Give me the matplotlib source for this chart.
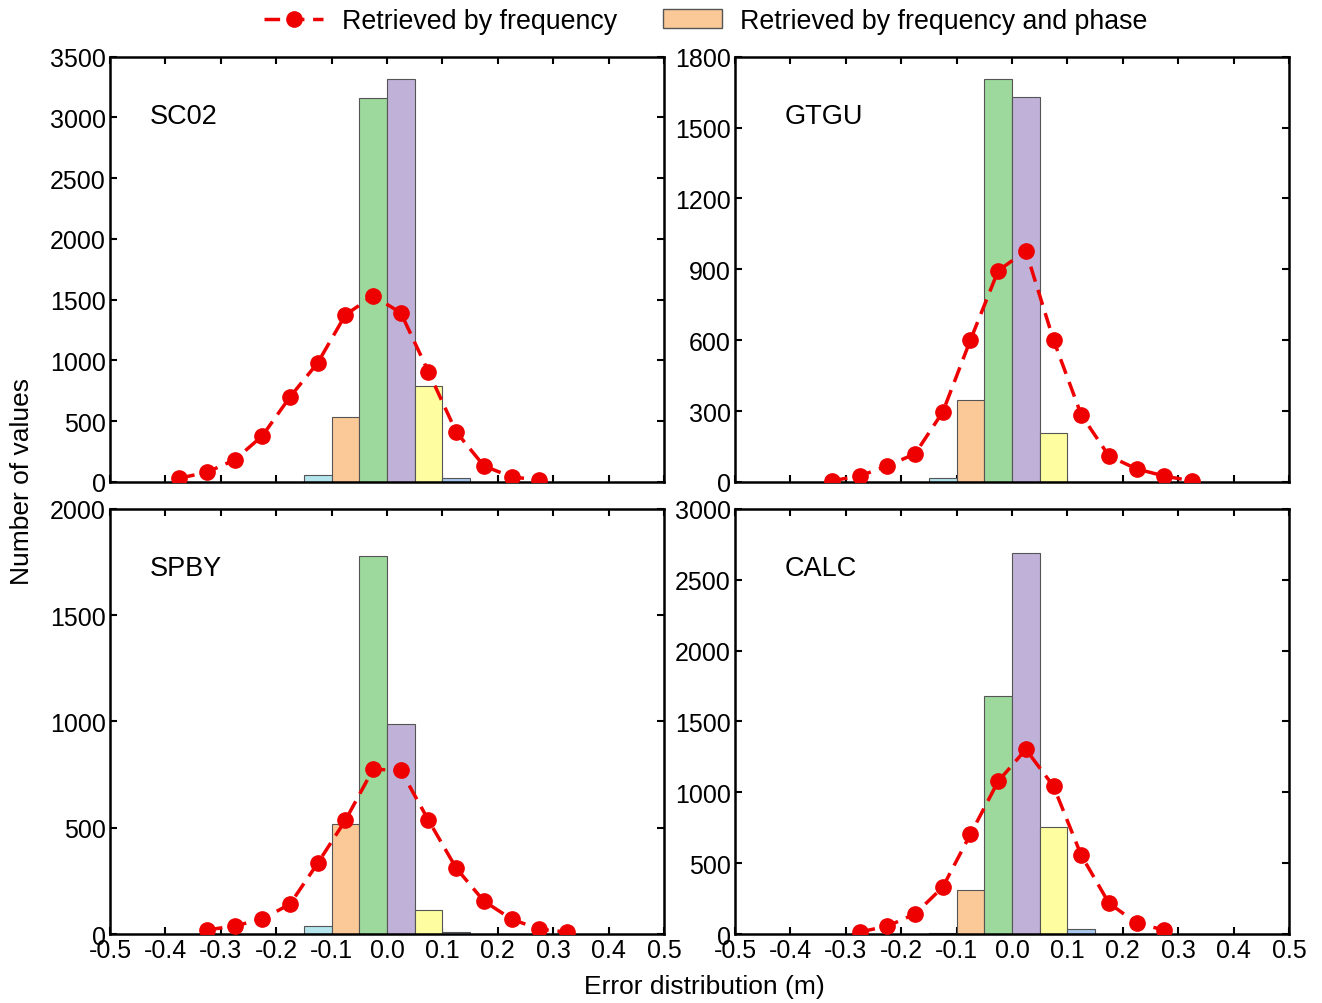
import matplotlib.pyplot as plt
import numpy as np

plt.rcParams['font.family'] = ['Liberation Sans', 'DejaVu Sans']
plt.rcParams['font.size'] = 18

stations = ['SC02', 'GTGU', 'SPBY', 'CALC']
ymax = [3500, 1800, 2000, 3000]
ystep = [500, 300, 500, 500]
xticks = [-0.5, -0.4, -0.3, -0.2, -0.1, 0.0, 0.1, 0.2, 0.3, 0.4, 0.5]
xlabels = ['-0.5', '-0.4', '-0.3', '-0.2', '-0.1', '0.0', '0.1', '0.2', '0.3',
           '0.4', '0.5']

# bar centres (frequency + phase) and colours
bar_x = [-0.125, -0.075, -0.025, 0.025, 0.075, 0.125]
bar_cols = ['#b4e4ec', '#fbc997', '#9dd89c', '#c0b1d8', '#fefea0', '#a8c8f0']
bars = {
    'SC02': [60, 535, 3163, 3320, 790, 33],
    'GTGU': [15, 347, 1707, 1631, 208, 0],
    'SPBY': [38, 516, 1779, 986, 113, 9],
    'CALC': [5, 310, 1676, 2690, 753, 35],
}

# frequency-only curve
freq_x = {
    'SC02': [-0.375, -0.325, -0.275, -0.225, -0.175, -0.125, -0.075, -0.025,
             0.025, 0.075, 0.125, 0.175, 0.225, 0.275],
    'GTGU': [-0.325, -0.275, -0.225, -0.175, -0.125, -0.075, -0.025,
             0.025, 0.075, 0.125, 0.175, 0.225, 0.275, 0.325],
    'SPBY': [-0.325, -0.275, -0.225, -0.175, -0.125, -0.075, -0.025,
             0.025, 0.075, 0.125, 0.175, 0.225, 0.275, 0.325],
    'CALC': [-0.275, -0.225, -0.175, -0.125, -0.075, -0.025,
             0.025, 0.075, 0.125, 0.175, 0.225, 0.275],
}
freq_y = {
    'SC02': [30, 80, 181, 379, 700, 980, 1375, 1532, 1392, 906, 412, 132, 41, 16],
    'GTGU': [5, 25, 68, 119, 296, 601, 894, 978, 601, 284, 110, 55, 25, 4],
    'SPBY': [19, 38, 70, 141, 333, 535, 775, 770, 535, 310, 155, 70, 23, 9],
    'CALC': [14, 56, 141, 331, 704, 1077, 1303, 1042, 556, 218, 77, 28],
}

fig = plt.figure(figsize=(13.22, 10.04), dpi=100)
lefts = [0.0832, 0.556, 0.0832, 0.556]
bottoms = [0.519, 0.519, 0.0687, 0.0687]
label_x = [0.072, 0.09, 0.072, 0.09]
w, h = 0.419, 0.4235

for i, st in enumerate(stations):
    ax = fig.add_axes([lefts[i], bottoms[i], w, h])
    ax.bar(bar_x, bars[st], width=0.05, color=bar_cols, edgecolor='#555555',
           linewidth=0.8, zorder=2)
    ax.plot(freq_x[st], freq_y[st], '--', color='#ee0000', lw=2.5,
            dashes=(4.5, 2.5), marker='o', ms=11, zorder=3)
    ax.set_xlim(-0.5, 0.5)
    ax.set_ylim(0, ymax[i])
    ax.set_xticks(xticks)
    ax.set_yticks(np.arange(0, ymax[i] + 1, ystep[i]))
    ax.tick_params(direction='in', top=True, right=True, width=1.5, length=5,
                   labelsize=18, pad=3)
    if i < 2:
        ax.tick_params(labelbottom=False)
    else:
        ax.set_xticklabels(xlabels)
    for sp in ax.spines.values():
        sp.set_linewidth(1.8)
    ax.text(label_x[i], 0.86, st, transform=ax.transAxes, fontsize=19.5,
            va='center')

fig.text(0.017, 0.52, 'Number of values', rotation=90, ha='center',
         va='center', fontsize=19)
fig.text(0.533, 0.017, 'Error distribution (m)', ha='center', va='center',
         fontsize=19)

line_h, = plt.plot([], [], '--', color='#ee0000', lw=2.5, dashes=(4.5, 2.5),
                   marker='o', ms=11)
patch_h = plt.Rectangle((0, 0), 1, 1, facecolor='#fbc997', edgecolor='#555555')
fig.legend([line_h, patch_h],
           ['Retrieved by frequency', 'Retrieved by frequency and phase'],
           loc='center', bbox_to_anchor=(0.534, 0.978), ncol=2, frameon=False,
           fontsize=19.3, handlelength=2.2, columnspacing=1.7,
           handletextpad=0.7)

fig.savefig('out.png', dpi=100)
